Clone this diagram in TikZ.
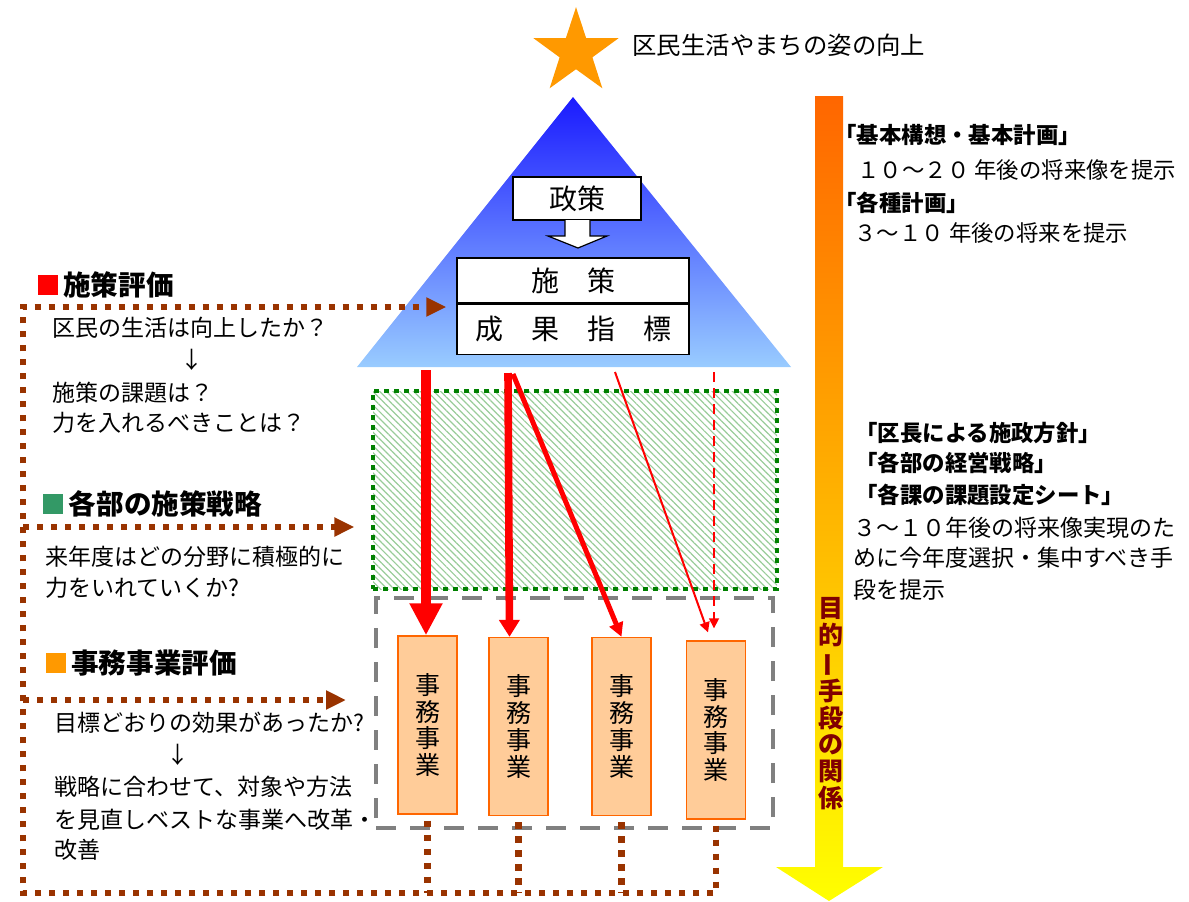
\documentclass[tikz,border=0pt]{standalone}
\usepackage{fontspec}
\setmainfont{Noto Sans CJK JP}
\usetikzlibrary{arrows.meta}
\usetikzlibrary{patterns.meta}
\usetikzlibrary{shapes.geometric}
\usetikzlibrary{positioning}

\definecolor{fbbrown}{HTML}{993300}
\definecolor{boxorange}{HTML}{FFCC99}
\definecolor{lineorange}{HTML}{FF6600}
\definecolor{dkgreen}{HTML}{008000}
\definecolor{hatchgreen}{HTML}{99CC99}
\definecolor{skyblue}{HTML}{99CCFF}
\definecolor{deepblue}{HTML}{1A1AFF}
\definecolor{starorange}{HTML}{FF9900}
\definecolor{sqgreen}{HTML}{339966}
\definecolor{dkred}{HTML}{800000}

\newcommand{\txtbody}{\fontsize{11.5}{14}\selectfont}
\newcommand{\txthead}{\fontsize{13.8}{16}\selectfont\bfseries}
\newcommand{\txtnote}{\fontsize{11.2}{14}\selectfont}

\tikzset{
  fb/.style={draw=fbbrown, line width=3.2pt, dash pattern=on 3.2pt off 3.8pt},
  fbtip/.style={-{Triangle[width=9pt,length=10pt]}},
  jimu/.style={draw=lineorange, fill=boxorange, line width=0.7pt, minimum width=29.5pt,
    minimum height=89pt, inner sep=0pt, align=center, font=\fontsize{12.5}{13.4}\selectfont},
  whitebox/.style={draw, fill=white, line width=0.7pt, inner sep=0pt, font=\fontsize{14}{16}\selectfont},
  txt/.style={anchor=west, inner sep=0pt, font=\txtbody},
  note/.style={anchor=west, inner sep=0pt, font=\txtnote},
  notehead/.style={anchor=west, inner sep=0pt, font=\txtnote\bfseries},
  head/.style={anchor=west, inner sep=0pt, font=\txthead},
  sq/.style={minimum size=10pt, inner sep=0pt},
}

\begin{document}
\begin{tikzpicture}[x=0.5pt, y=-0.5pt]
  \useasboundingbox (0,0) rectangle (1189,901);

  % goal
  \node[star, star points=5, star point ratio=2.6, fill=starorange, minimum size=44.8pt, inner sep=0pt] (star) at (576,52) {};
  \node[txt, font=\fontsize{12.2}{14}\selectfont] (goal) at (632,45) {区民生活やまちの姿の向上};

  % pyramid
  \shade[top color=deepblue, bottom color=skyblue] (573,97) -- (791,367) -- (357,367) -- cycle;
  \node[whitebox, minimum width=64pt, minimum height=21.5pt] (seisaku) at (577,198.5) {政策};
  \draw[fill=white, line width=0.6pt] (565,220) -- (565,236) -- (548,236) -- (578,248) -- (607,236) -- (590,236) -- (590,220);
  \node[whitebox, minimum width=116pt, minimum height=22.5pt] (shisaku) at (573,280.5) {施　策};
  \node[whitebox, minimum width=116pt, minimum height=25pt, below=0pt of shisaku] (seika) {成　果　指　標};

  % strategy and projects
  \node[draw=dkgreen, line width=2.4pt, dash pattern=on 2.4pt off 2.6pt,
    pattern={Lines[angle=-45,distance=2.4pt,line width=0.6pt]}, pattern color=hatchgreen,
    minimum width=202pt, minimum height=99pt, inner sep=0pt] (senryaku) at (575,490) {};
  \node[draw=gray, line width=2pt, dash pattern=on 10pt off 7pt,
    minimum width=198.5pt, minimum height=115pt, inner sep=0pt] (jimuarea) at (574.5,713) {};

  \node[jimu] (jimu1) at (427.5,725) {事\\務\\事\\業};
  \node[jimu] (jimu2) at (518.5,726.5) {事\\務\\事\\業};
  \node[jimu] (jimu3) at (621.5,726.5) {事\\務\\事\\業};
  \node[jimu] (jimu4) at (716,730) {事\\務\\事\\業};

  \coordinate (s1) at (426,370);
  \coordinate (s2) at (508,373);
  \coordinate (s3) at (513,374);
  \coordinate (s4) at (615,372);
  \coordinate (s5) at (714,372);
  \draw[red, line width=5pt, -{Triangle[width=15.5pt,length=16pt]}] (s1) -- (s1 |- jimu1.north);
  \draw[red, line width=3.8pt, -{Triangle[width=10pt,length=8.5pt]}] (s2) -- ([xshift=-4.5pt]jimu2.north);
  \draw[red, line width=2.5pt, -{Triangle[width=7pt,length=7pt]}] (s3) -- (jimu3.north);
  \draw[red, line width=1pt, -{Triangle[width=5pt,length=5pt]}] (s4) -- ([xshift=-4pt,yshift=4pt]jimu4.north);
  \draw[red, line width=0.8pt, dash pattern=on 5pt off 3pt, -{Triangle[width=5pt,length=5pt]}] (s5) -- ([xshift=-1pt,yshift=6pt]jimu4.north);

  % feedback
  \coordinate (fbbot) at (23,893);
  \coordinate (fbtop) at (23,307);
  \coordinate (fbmid) at (23,527);
  \coordinate (fblow) at (23,700);
  \draw[fb, fbtip, shorten >=5pt] ([yshift=-3pt]jimu4.south) -- (jimu4.south |- fbbot) -- (fbbot) -- (fbtop) -- (fbtop -| seika.west);
  \draw[fb] ([yshift=-3pt]jimu1.south) -- (jimu1.south |- fbbot);
  \draw[fb] ([yshift=-3pt]jimu2.south) -- (jimu2.south |- fbbot);
  \draw[fb] ([yshift=-3pt]jimu3.south) -- (jimu3.south |- fbbot);
  \draw[fb, fbtip, shorten >=9pt] (fbmid) -- (fbmid -| senryaku.west);
  \draw[fb, fbtip, shorten >=14pt] (fblow) -- (fblow -| jimuarea.west);

  % left texts
  \node[sq, fill=red] (sq1) at (47.5,285) {};
  \node[head, right=2.5pt of sq1] (h1) {施策評価};
  \node[txt] (q1) at (52,328) {区民の生活は向上したか？};
  \node[txt, anchor=center] (d1) at (192,360) {↓};
  \node[txt] (q2) at (52,393) {施策の課題は？};
  \node[txt] (q3) at (52,423) {力を入れるべきことは？};

  \node[sq, fill=sqgreen] (sq2) at (53,503.5) {};
  \node[head, right=2.5pt of sq2] (h2) {各部の施策戦略};
  \node[txt] (q4) at (45,557) {来年度はどの分野に積極的に};
  \node[txt] (q5) at (45,588) {力をいれていくか?};

  \node[sq, fill=starorange] (sq3) at (55.5,663) {};
  \node[head, right=2.5pt of sq3] (h3) {事務事業評価};
  \node[txt] (q6) at (54,723) {目標どおりの効果があったか?};
  \node[txt, anchor=center] (d2) at (178,755) {↓};
  \node[txt] (q7) at (54,787) {戦略に合わせて、対象や方法};
  \node[txt] (q8) at (54,820) {を見直しベストな事業へ改革・};
  \node[txt] (q9) at (54,850) {改善};

  % ends and means
  \shade[top color=lineorange, bottom color=yellow] (815,96) -- (843,96) -- (843,867) -- (883,867) -- (829,901) -- (776,867) -- (815,867) -- cycle;
  \node[inner sep=0pt, align=center, text=dkred, font=\fontsize{12.5}{13.3}\selectfont\bfseries] (mokuteki) at (831,703.5)
    {目\\的\\\rotatebox[origin=c]{90}{ー}\\手\\段\\の\\関\\係};

  \node[notehead] (r1) at (834,135) {「基本構想・基本計画」};
  \node[note] (r2) at (857,170) {１０～２０ 年後の将来像を提示};
  \node[notehead] (r3) at (834,203) {「各種計画」};
  \node[note] (r4) at (854,233) {３～１０ 年後の将来を提示};
  \node[notehead] (r5) at (855,433) {「区長による施政方針」};
  \node[notehead] (r6) at (855,463) {「各部の経営戦略」};
  \node[notehead] (r7) at (855,495) {「各課の課題設定シート」};
  \node[txt] (r8) at (853,528) {３～１０年後の将来像実現のた};
  \node[txt] (r9) at (853,558) {めに今年度選択・集中すべき手};
  \node[txt] (r10) at (853,590) {段を提示};
\end{tikzpicture}
\end{document}
